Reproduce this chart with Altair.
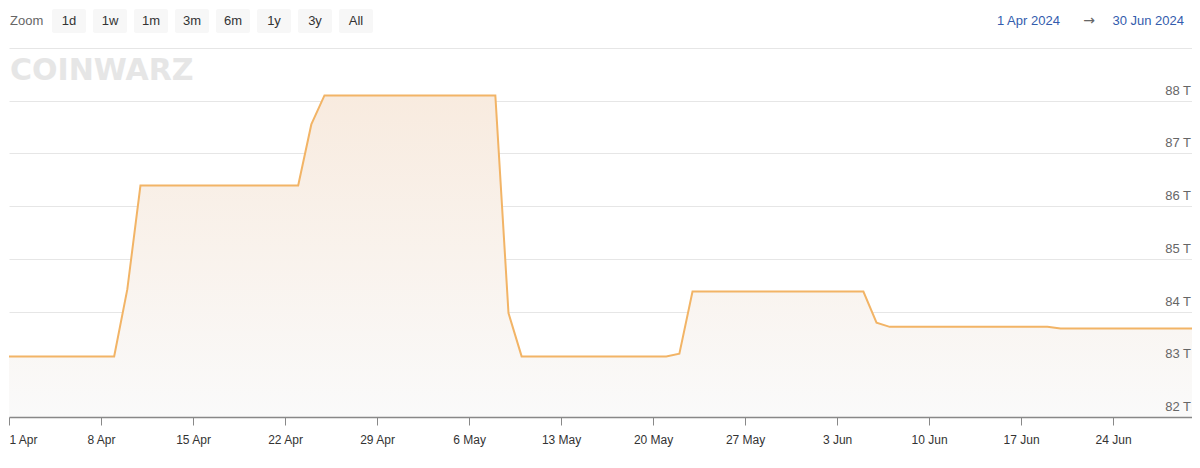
import altair as alt
import pandas as pd

# ---- data ----
dates = ["2024-04-01", "2024-04-09", "2024-04-10", "2024-04-11", "2024-04-23",
         "2024-04-24", "2024-04-25", "2024-05-08", "2024-05-09", "2024-05-10",
         "2024-05-21", "2024-05-22", "2024-05-23", "2024-06-05", "2024-06-06",
         "2024-06-07", "2024-06-19", "2024-06-20", "2024-06-30"]
difficulty = [83.15, 83.15, 84.42, 86.39, 86.39,
              87.55, 88.10, 88.10, 83.97, 83.15,
              83.15, 83.20, 84.38, 84.38, 83.79,
              83.71, 83.71, 83.68, 83.68]
y_label_values = [82, 83, 84, 85, 86, 87, 88]
grid_values = [82, 83, 84, 85, 86, 87, 88, 89]
x_tick_days = [(4, 1), (4, 8), (4, 15), (4, 22), (4, 29), (5, 6), (5, 13),
               (5, 20), (5, 27), (6, 3), (6, 10), (6, 17), (6, 24)]
zoom_buttons = ["1d", "1w", "1m", "3m", "6m", "1y", "3y", "All"]
range_start = "1 Apr 2024"
range_end = "30 Jun 2024"
watermark = "COINWARZ"

FONT = "Liberation Sans"
W, H = 1183, 369

df = pd.DataFrame({"date": dates, "difficulty": difficulty})

xscale = alt.Scale(type="utc", domain=[alt.DateTime(year=2024, month=4, date=1, utc=True),
                                       alt.DateTime(year=2024, month=6, date=30, utc=True)])
yscale = alt.Scale(domain=[82, 89], zero=False, nice=False)

x_axis = alt.Axis(
    values=[alt.DateTime(year=2024, month=m, date=d, utc=True) for m, d in x_tick_days],
    format="%-d %b", labelFlush=True, title=None, grid=False,
    tickSize=8, tickColor="#888888", domainColor="#888888", domainWidth=1.5,
    labelPadding=9, labelFont=FONT, labelFontSize=12, labelColor="#333333", zindex=1,
)
y_axis = alt.Axis(orient="right", values=grid_values, grid=True, gridColor="#e6e6e6",
                  labels=False, ticks=False, domain=False, title=None, zindex=0)

gradient = alt.Gradient(
    gradient="linear",
    stops=[alt.GradientStop(color="#f8ebdf", offset=0),
           alt.GradientStop(color="#fafafa", offset=1)],
    x1=1, x2=1, y1=0, y2=1,
)

area = alt.Chart(df).mark_area(color=gradient, opacity=1).encode(
    x=alt.X("date:T", scale=xscale, axis=x_axis),
    y=alt.Y("difficulty:Q", scale=yscale, axis=y_axis, stack=None),
    y2=alt.value(H),
)
line = alt.Chart(df).mark_line(color="#f2b466", strokeWidth=2).encode(
    x=alt.X("date:T", scale=xscale, axis=x_axis),
    y=alt.Y("difficulty:Q", scale=yscale, axis=y_axis),
)
ylabels = alt.Chart(pd.DataFrame({"v": y_label_values})).transform_calculate(
    label="datum.v + ' T'"
).mark_text(align="right", baseline="bottom", dy=-3, font=FONT, fontSize=13,
            color="#666666").encode(
    y=alt.Y("v:Q", scale=yscale, axis=y_axis),
    x=alt.value(W - 1),
    text="label:N",
)

decor = []


def one(text):
    return alt.Chart(pd.DataFrame({"t": [text]}))


# watermark
decor.append(one(watermark).mark_text(align="left", baseline="alphabetic", font="DejaVu Sans",
                                      fontWeight="bold", fontSize=30, color="#e6e6e6").encode(
    x=alt.value(1), y=alt.value(32), text="t:N"))
# zoom label
decor.append(one("Zoom").mark_text(align="left", baseline="middle", font=FONT, fontSize=13,
                                   color="#666666").encode(
    x=alt.value(1), y=alt.value(-27), text="t:N"))
for i, b in enumerate(zoom_buttons):
    x0 = 43 + 41 * i
    decor.append(one(b).mark_rect(color="#f7f7f7", cornerRadius=2).encode(
        x=alt.value(x0), x2=alt.value(x0 + 34), y=alt.value(-39), y2=alt.value(-15)))
    decor.append(one(b).mark_text(align="center", baseline="middle", font=FONT, fontSize=13,
                                  color="#333333").encode(
        x=alt.value(x0 + 17), y=alt.value(-27), text="t:N"))
# date range
decor.append(one(range_start).mark_text(align="left", baseline="middle", font=FONT, fontSize=13,
                                        color="#335cad").encode(
    x=alt.value(988), y=alt.value(-27), text="t:N"))
decor.append(one("\u2192").mark_text(align="center", baseline="middle", font="DejaVu Sans",
                                     fontSize=14, color="#666666").encode(
    x=alt.value(1080), y=alt.value(-27), text="t:N"))
decor.append(one(range_end).mark_text(align="right", baseline="middle", font=FONT, fontSize=13,
                                      color="#335cad").encode(
    x=alt.value(1175), y=alt.value(-27), text="t:N"))

chart = alt.layer(area, line, ylabels, *decor).properties(
    width=W, height=H,
    autosize="none",
    padding={"left": 1, "top": 40, "right": 0, "bottom": 40},
    background="white",
).configure_view(stroke=None)

chart.save("out.html", embed_options={"renderer": "svg", "actions": False})
